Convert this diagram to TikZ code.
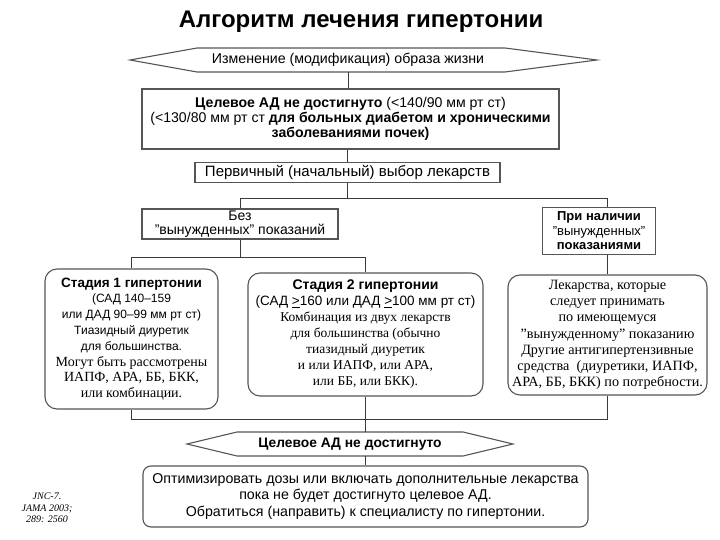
\documentclass[tikz,border=0pt]{standalone}
\usepackage{fontspec}
\setmainfont{Liberation Serif}
\setsansfont{Liberation Sans}
\usetikzlibrary{calc}
\definecolor{linegray}{HTML}{555555}
\definecolor{conngray}{HTML}{3A3A3A}
\newcommand{\sq}{\symbol{34}}
\begin{document}
\begin{tikzpicture}[x=1pt,y=-1pt,
  box/.style={draw=linegray, line width=1.1pt, fill=white, inner sep=0pt, align=center, font=\sffamily},
  rbox/.style={box, rounded corners=12pt},
  conn/.style={draw=conngray, line width=0.9pt},
  hexline/.style={draw=linegray, line width=1.1pt, fill=white},
  plain/.style={inner sep=0pt, align=center, font=\sffamily}]
\useasboundingbox (0,0) rectangle (720,540);

% title
\node[plain, font=\sffamily\bfseries\fontsize{24}{28}\selectfont] (title) at (361,22) {Алгоритм лечения гипертонии};

% hexagon 1
\draw[hexline] (130,60) -- (197,48) -- (505,48) -- (597,60) -- (505,72) -- (197,72) -- cycle;
\node[plain, minimum width=300pt, minimum height=24pt, font=\sffamily\fontsize{14.2}{16}\selectfont] (hex1) at (348,60) {Изменение (модификация) образа жизни};

% box 2
\node[box, minimum width=417pt, minimum height=60pt, font=\sffamily\fontsize{14.1}{15}\selectfont] (box2) at (350.5,119)
  {{\bfseries Целевое АД не достигнуто} (<140/90 мм рт ст)\\
   (<130/80 мм рт ст {\bfseries для больных диабетом и хроническими}\\
   {\bfseries заболеваниями почек)}};

% box 3
\node[box, minimum width=305pt, minimum height=20pt, font=\sffamily\fontsize{15}{16}\selectfont] (box3) at (347.5,172.5)
  {Первичный (начальный) выбор лекарств};

% branch boxes
\node[box, minimum width=196pt, minimum height=30pt, font=\sffamily\fontsize{14}{14.5}\selectfont] (bez) at (240,224)
  {Без\\ \sq вынужденных\sq\ показаний};
\node[box, minimum width=113pt, minimum height=47pt, font=\sffamily\fontsize{13}{14.5}\selectfont] (pri) at (599,231)
  {{\bfseries При наличии}\\ \sq вынужденных\sq\\ {\bfseries показаниями}};

% stage boxes
\node[rbox, minimum width=173pt, minimum height=140pt, font=\sffamily\fontsize{12}{15.8}\selectfont] (st1) at (131.5,339)
  {{\bfseries\fontsize{13.5}{15.8}\selectfont Стадия 1 гипертонии}\\
   (САД 140--159\\
   или ДАД 90--99 мм рт ст)\\
   Тиазидный диуретик\\
   для большинства.\\
   {\rmfamily\fontsize{14}{15.8}\selectfont Могут быть рассмотрены}\\
   {\rmfamily\fontsize{14}{15.8}\selectfont ИАПФ, АРА, ББ, БКК,}\\
   {\rmfamily\fontsize{14}{15.8}\selectfont или комбинации.}};

\node[rbox, minimum width=235pt, minimum height=123pt, font=\sffamily\fontsize{13.5}{16}\selectfont] (st2) at (365.5,334.5)
  {{\bfseries\fontsize{14}{16}\selectfont Стадия 2 гипертонии}\\
   (САД \underline{>}160 или ДАД \underline{>}100 мм рт ст)\\
   {\rmfamily Комбинация из двух лекарств}\\
   {\rmfamily для большинства (обычно}\\
   {\rmfamily тиазидный диуретик}\\
   {\rmfamily и или ИАПФ, или АРА,}\\
   {\rmfamily или ББ, или БКК).}};

\node[rbox, minimum width=199pt, minimum height=120pt, font=\rmfamily\fontsize{14.2}{16.2}\selectfont] (rt) at (607.5,335)
  {Лекарства, которые\\
   следует принимать\\
   по имеющемуся\\
   \sq вынужденному\sq\ показанию\\
   Другие антигипертензивные\\
   средства\ \ (диуретики, ИАПФ,\\
   АРА, ББ, БКК) по потребности.};

% hexagon 2
\draw[hexline] (187,444) -- (237,432) -- (463,432) -- (513,444) -- (463,456) -- (237,456) -- cycle;
\node[plain, minimum width=220pt, minimum height=24pt, font=\sffamily\bfseries\fontsize{13.8}{15}\selectfont] (hex2) at (350,444) {Целевое АД не достигнуто};

% final box
\node[box, rounded corners=8pt, minimum width=445pt, minimum height=61pt, font=\sffamily\fontsize{14.2}{16.5}\selectfont] (fin) at (365.5,496.5)
  {Оптимизировать дозы или включать дополнительные лекарства\\
   пока не будет достигнуто целевое АД.\\
   Обратиться (направить) к специалисту по гипертонии.};

% citation
\node[plain, font=\rmfamily\itshape\fontsize{10}{11.5}\selectfont] (cite) at (47,508) {JNC-7.\\ JAMA 2003;\\ 289: 2560};

% junction coordinates
\coordinate (j1) at (348,198);
\coordinate (j2) at (240,257);
\coordinate (j3) at (366,419);

% connectors
\draw[conn] (hex1.south) -- (hex1.south |- box2.north);
\draw[conn] (box3.north |- box2.south) -- (box3.north);
\draw[conn] (box3.south) -- (box3.south |- j1);
\draw[conn] (bez.north) -- (bez.north |- j1) -- (j1 -| rt.north) -- (pri.north -| rt.north);
\draw[conn] (pri.south -| rt.north) -- (rt.north);
\draw[conn] (bez.south) -- (bez.south |- j2);
\draw[conn] (st1.north) -- (st1.north |- j2) -- (j2 -| st2.north) -- (st2.north);
\draw[conn] (st1.south) -- (st1.south |- j3) -- (j3 -| rt.south) -- (rt.south);
\draw[conn] (st2.south) -- (st2.south |- hex2.north);
\draw[conn] (hex2.south -| fin.north) -- (fin.north);
\end{tikzpicture}
\end{document}
